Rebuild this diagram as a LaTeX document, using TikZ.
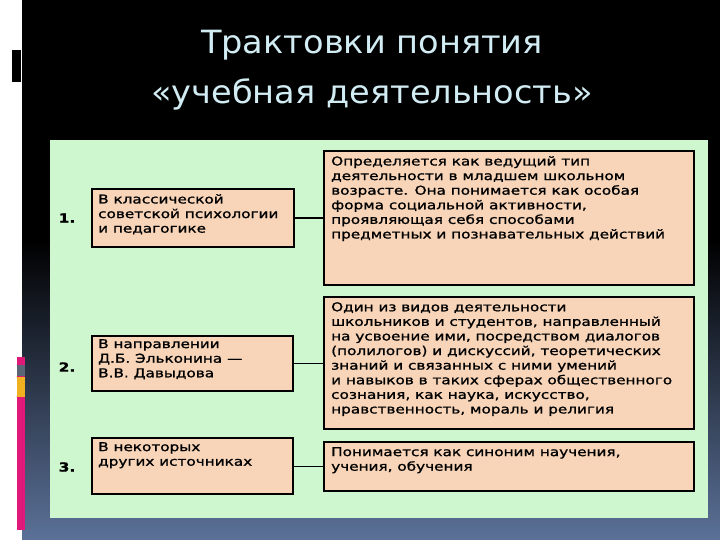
\documentclass[tikz,border=0pt]{standalone}
\usepackage{fontspec}
\setmainfont{DejaVu Sans}
\newfontfamily\boxfont[FakeStretch=1.25,FakeBold=1.2]{DejaVu Sans}
\newfontfamily\titlefont[FakeStretch=1.05]{DejaVu Sans}
\begin{document}
\begin{tikzpicture}[x=1pt,y=-1pt,
  bx/.style={draw=black,line width=2.2pt,fill=boxc,anchor=north west,inner sep=0pt},
  txt/.style={anchor=north west,align=left,font=\boxfont\fontsize{12.2}{14.6}\selectfont,inner sep=0pt},
  num/.style={font=\boxfont\bfseries\fontsize{12.5}{14}\selectfont},
  link/.style={draw=black,line width=1.2pt}]
\definecolor{boxc}{HTML}{F8D5B8}
\definecolor{panel}{HTML}{CFF7CF}
\definecolor{titlec}{HTML}{D2ECF4}
\definecolor{slidebot}{HTML}{5B7198}
\definecolor{stripep}{HTML}{E0187A}
\definecolor{stripeg}{HTML}{5A6675}
\definecolor{stripey}{HTML}{F0B020}
\useasboundingbox (0,0) rectangle (720,540);
\fill[white] (0,0) rectangle (720,540);
\fill[black] (22,0) rectangle (720,240);
\shade[top color=black,bottom color=slidebot] (22,240) rectangle (720,540);
\fill[black] (12,50) rectangle (21,82);
\fill[stripep] (17,357) rectangle (25,530);
\fill[stripeg] (17,365) rectangle (25,376);
\fill[stripey] (17,377) rectangle (25,397);
\fill[panel] (50,140) rectangle (708,518);
\node[font=\titlefont\fontsize{32}{50}\selectfont,text=titlec,align=center] (title) at (372,70) {Трактовки понятия\\«учебная деятельность»};
% left boxes
\node[bx,minimum width=202pt,minimum height=58pt] (l1) at (91,188) {};
\node[bx,minimum width=201pt,minimum height=55pt] (l2) at (91,335) {};
\node[bx,minimum width=201pt,minimum height=56pt] (l3) at (91,437) {};
\node[txt] (l1t) at (98,194) {В классической\\советской психологии\\и педагогике};
\node[txt] (l2t) at (98,339) {В направлении\\Д.Б. Эльконина —\\В.В. Давыдова};
\node[txt] (l3t) at (98,442) {В некоторых\\других источниках};
% right boxes
\node[bx,minimum width=370pt,minimum height=134pt] (r1) at (323,150) {};
\node[bx,minimum width=370pt,minimum height=132pt] (r2) at (323,296) {};
\node[bx,minimum width=370pt,minimum height=49pt] (r3) at (323,441) {};
\node[txt] (r1t) at (331,156) {Определяется как ведущий тип\\деятельности в младшем школьном\\возрасте. Она понимается как особая\\форма социальной активности,\\проявляющая себя способами\\предметных и познавательных действий};
\node[txt] (r2t) at (331,302) {Один из видов деятельности\\школьников и студентов, направленный\\на усвоение ими, посредством диалогов\\(полилогов) и дискуссий, теоретических\\знаний и связанных с ними умений\\и навыков в таких сферах общественного\\сознания, как наука, искусство,\\нравственность, мораль и религия};
\node[txt] (r3t) at (331,447) {Понимается как синоним научения,\\учения, обучения};
% numbers
\node[num] (n1) at (67,218) {1.};
\node[num] (n2) at (67,367) {2.};
\node[num] (n3) at (67,467) {3.};
% connectors
\draw[link] (l1.east) -- (l1.east -| r1.west);
\draw[link] (l2.east) -- (l2.east -| r2.west);
\draw[link] (l3.east) -- (l3.east -| r3.west);
\end{tikzpicture}
\end{document}
